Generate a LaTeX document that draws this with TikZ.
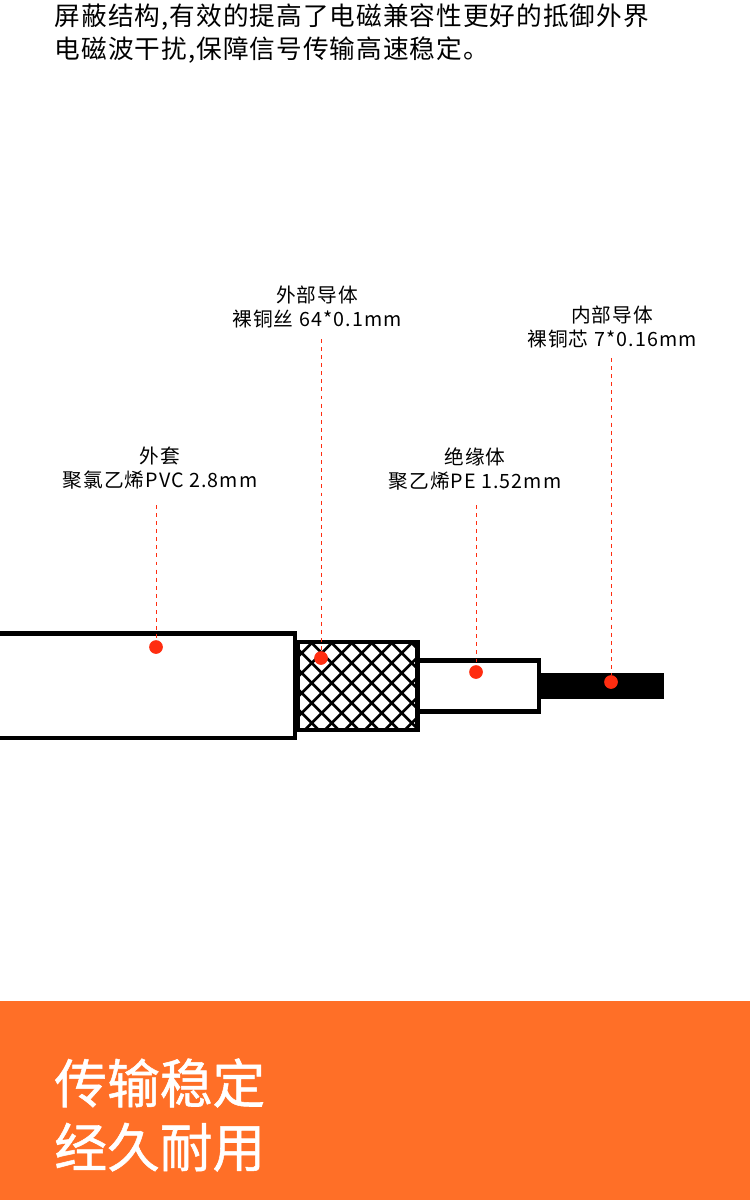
\documentclass[tikz,border=0pt]{standalone}
\usepackage{fontspec}
\setmainfont{Noto Sans CJK SC}
\newfontfamily\introfont[LetterSpace=4]{Noto Sans CJK SC}
\newfontfamily\labelfont[LetterSpace=5.5]{Noto Sans CJK SC}
\newfontfamily\sloganfont[FakeBold=1]{Noto Sans CJK SC}
\definecolor{bannerorange}{HTML}{FF6F27}
\definecolor{dotred}{HTML}{FF2D10}
\tikzset{
  wall/.style={line width=2.8pt,draw=black},
  leader/.style={draw=dotred,line width=0.45pt,dash pattern=on 2.2pt off 2.4pt},
  reddot/.style={circle,fill=dotred,inner sep=0pt,minimum size=7.8pt},
  partlabel/.style={align=center,font=\labelfont\fontsize{11.2pt}{13.7pt}\selectfont,inner sep=0pt},
}
\begin{document}
\begin{tikzpicture}[x=0.02cm,y=-0.02cm]
  \useasboundingbox (0,0) rectangle (750,1200);
  % top text
  \node[anchor=north west,align=left,inner sep=0pt,font=\introfont\fontsize{14.6pt}{18.8pt}\selectfont] (intro) at (54.5,3.5)
    {屏蔽结构,有效的提高了电磁兼容性更好的抵御外界\\电磁波干扰,保障信号传输高速稳定。};
  % cable
  \draw[wall] (0,633.5) -- (295,633.5) -- (295,738) -- (0,738);
  \begin{scope}
    \clip (297,642) rectangle (417.5,730);
    \foreach \i in {0,...,14} {
      \draw[line width=1.5pt] (168.7+20*\i,620) -- (308.7+20*\i,760);
      \draw[line width=1.5pt] (154.7+20*\i,760) -- (294.7+20*\i,620);
    }
  \end{scope}
  \draw[wall] (298,642) rectangle (417.5,730);
  \draw[wall] (419,660.5) -- (539,660.5) -- (539,711.5) -- (419,711.5);
  \fill (541,673) rectangle (664,699);
  % dots
  \node[reddot] (jacketdot) at (156,647) {};
  \node[reddot] (braiddot) at (321,658) {};
  \node[reddot] (insuldot) at (476,672) {};
  \node[reddot] (coredot) at (611,682) {};
  % labels
  \node[partlabel] (jacketlabel) at (160,468) {外套\\聚氯乙烯PVC 2.8mm};
  \node[partlabel] (braidlabel) at (317,307) {外部导体\\裸铜丝 64*0.1mm};
  \node[partlabel] (insullabel) at (475,469) {绝缘体\\聚乙烯PE 1.52mm};
  \node[partlabel] (corelabel) at (612,327) {内部导体\\裸铜芯 7*0.16mm};
  % leaders
  \coordinate (jackettop) at (156,505);
  \coordinate (braidtop) at (321,339);
  \coordinate (insultop) at (476,505);
  \coordinate (coretop) at (611,358);
  \draw[leader] (jackettop) -- (jacketdot);
  \draw[leader] (braidtop) -- (braiddot);
  \draw[leader] (insultop) -- (insuldot);
  \draw[leader] (coretop) -- (coredot);
  % banner
  \fill[bannerorange] (0,1001) rectangle (750,1200);
  \node[anchor=west,align=left,inner sep=0pt,text=white,font=\sloganfont\fontsize{30pt}{36.4pt}\selectfont] (slogan) at (54,1115)
    {传输稳定\\经久耐用};
\end{tikzpicture}
\end{document}
